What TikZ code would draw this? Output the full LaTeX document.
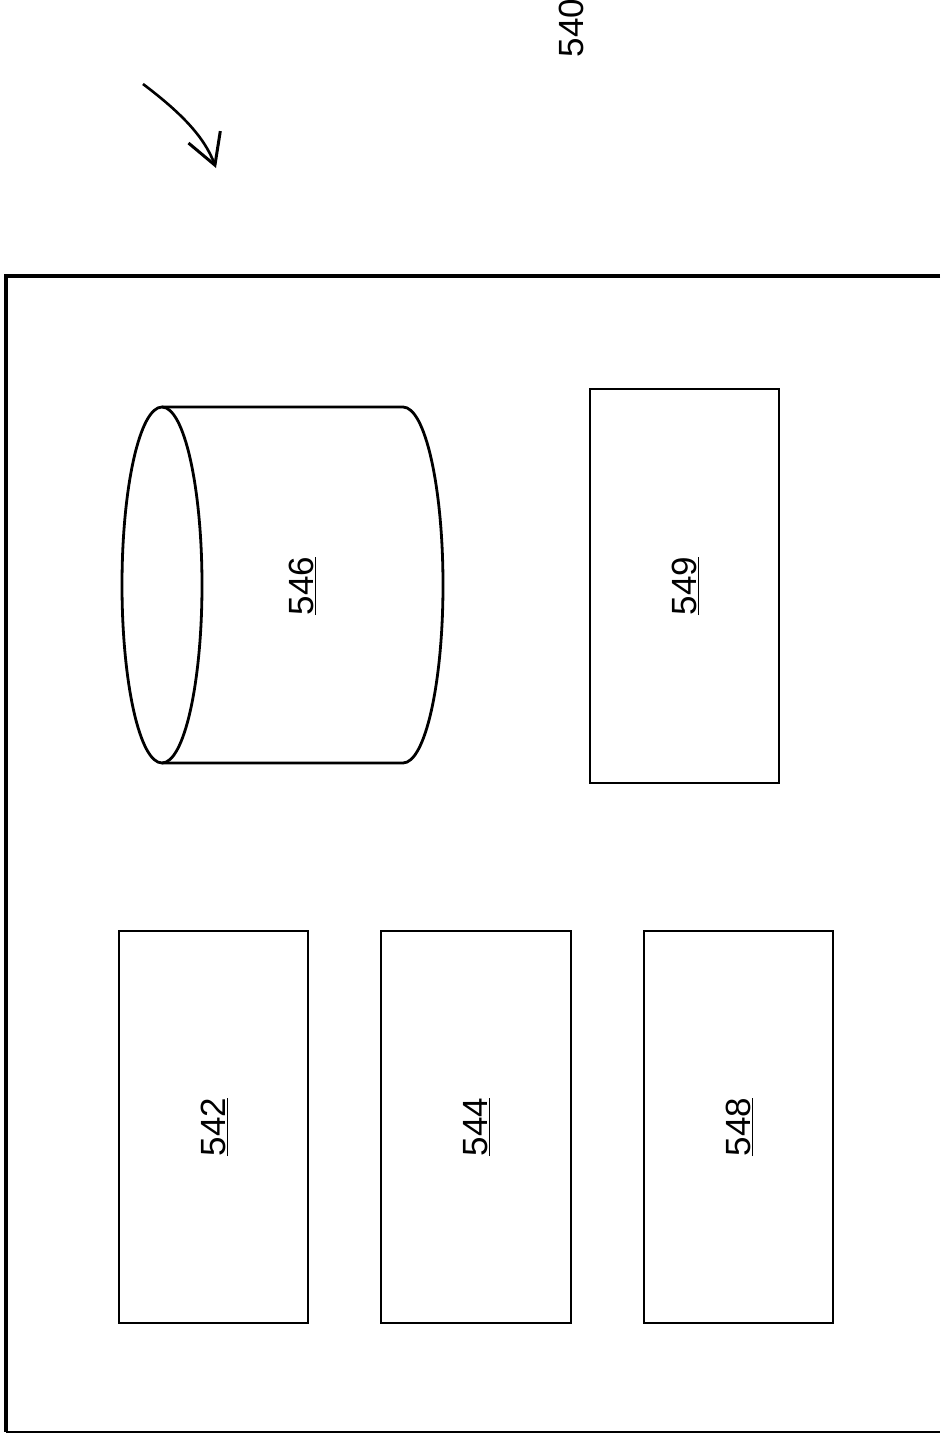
\documentclass[tikz,border=0pt]{standalone}
\usepackage{fontspec}
\setmainfont{Liberation Sans}
\usetikzlibrary{arrows.meta}
\tikzset{
  blk/.style={draw, line width=2.8pt},
  lbl/.style={rotate=90, font=\fontsize{35}{40}\selectfont, inner sep=0pt},
  frame/.style={line width=3.2pt},
}
\newcommand{\ulnum}[1]{\underline{#1}}
\begin{document}
\begin{tikzpicture}[x=1pt,y=-1pt]
\useasboundingbox (0,0) rectangle (940,1435);
% outer frame (open at right)
\coordinate (ftr) at (940,276);
\coordinate (ftl) at (6,276);
\coordinate (fbl) at (6,1432);
\coordinate (fbr) at (940,1432);
\draw[frame] (ftr) -- (ftl) -- (fbl);
\draw[line width=1.6pt] (fbl) -- (fbr);
% reference label and arrow
\node[lbl] (l540) at (571,28) {540};
\coordinate (as) at (143,84);
\coordinate (ae) at (216,168);
\draw[line width=2.6pt, -{Straight Barb[length=30pt,width=34pt,line width=3pt]}]
  (as) .. controls (180,112) and (204,136) .. (ae);
% boxes
\draw[blk] (119,931) rectangle (308,1323);
\node[lbl] (t542) at (214,1127) {\ulnum{542}};
\draw[blk] (381,931) rectangle (571,1323);
\node[lbl] (t544) at (477,1127) {\ulnum{544}};
\draw[blk] (644,931) rectangle (833,1323);
\node[lbl] (t548) at (739,1127) {\ulnum{548}};
\draw[blk] (590,389) rectangle (779,783);
\node[lbl] (t549) at (685,586) {\ulnum{549}};
% cylinder 546
\draw[blk] (162,585) ellipse [x radius=40, y radius=178];
\draw[blk] (162,407) -- (403,407) arc[start angle=-90, end angle=90, x radius=40, y radius=178] -- (162,763);
\node[lbl] (t546) at (302,586) {\ulnum{546}};
\end{tikzpicture}
\end{document}
